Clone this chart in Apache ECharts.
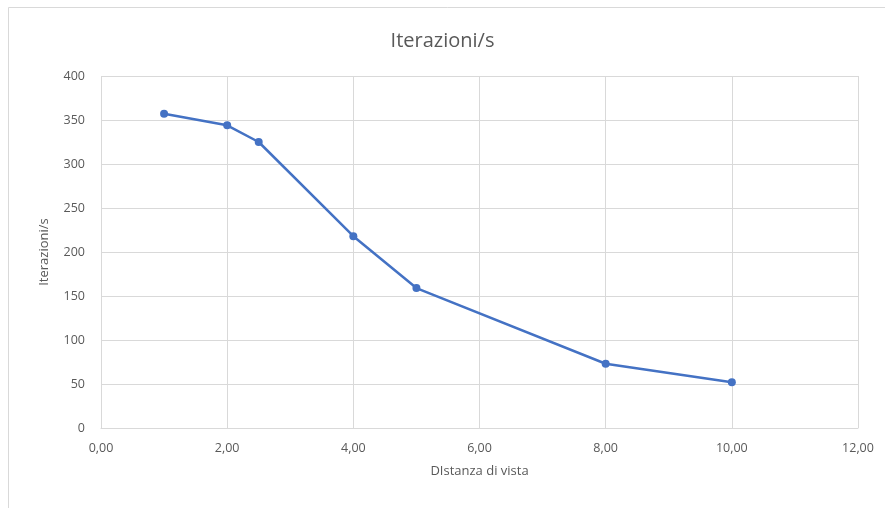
<!DOCTYPE html>
<html>
<head>
<meta charset="utf-8">
<script src="https://cdn.jsdelivr.net/npm/echarts@6/dist/echarts.min.js"></script>
<style>
  html, body { margin: 0; padding: 0; background: #fff; }
  #main { width: 885px; height: 508px; }
</style>
</head>
<body>
<div id="main"></div>
<script>
const distanze = [1, 2, 2.5, 4, 5, 8, 10];
const iterazioni = [357, 344, 325, 218, 159, 73, 52];
const titolo = 'Iterazioni/s';
const nomeX = 'DIstanza di vista';
const nomeY = 'Iterazioni/s';

const chart = echarts.init(document.getElementById('main'));
const txt = '#595959';
const font = 'Open Sans';

const option = {
  animation: false,
  backgroundColor: '#fff',
  textStyle: { fontFamily: font },
  title: {
    text: titolo,
    left: 'center',
    top: 26,
    textStyle: { fontFamily: font, fontSize: 20, fontWeight: 'normal', color: txt }
  },
  graphic: [{
    type: 'rect',
    shape: { x: 8.5, y: 7.5, width: 1000, height: 1000 },
    style: { fill: 'none', stroke: '#d9d9d9', lineWidth: 1 },
    silent: true
  }],
  grid: { left: 101, right: 27, top: 76, bottom: 80 },
  xAxis: {
    type: 'value',
    min: 0, max: 12, interval: 2,
    name: nomeX,
    nameLocation: 'middle',
    nameGap: 37,
    nameTextStyle: { color: txt, fontSize: 13, fontFamily: font },
    axisLine: { show: true, lineStyle: { color: '#d9d9d9' } },
    axisTick: { show: false },
    axisLabel: {
      color: txt, fontSize: 12.5, margin: 14,
      formatter: v => v.toFixed(2).replace('.', ',')
    },
    splitLine: { show: true, lineStyle: { color: '#d9d9d9' } }
  },
  yAxis: {
    type: 'value',
    min: 0, max: 400, interval: 50,
    name: nomeY,
    nameLocation: 'middle',
    nameGap: 50,
    nameTextStyle: { color: txt, fontSize: 13, fontFamily: font },
    axisLine: { show: false },
    axisTick: { show: false },
    axisLabel: { color: txt, fontSize: 12.5, margin: 16 },
    splitLine: { show: true, lineStyle: { color: '#d9d9d9' } }
  },
  series: [{
    type: 'line',
    data: distanze.map((x, i) => [x, iterazioni[i]]),
    symbol: 'circle',
    symbolSize: 8,
    lineStyle: { color: '#4472C4', width: 2.5 },
    itemStyle: { color: '#4472C4' },
    emphasis: { disabled: true }
  }]
};
chart.setOption(option);
</script>
</body>
</html>
